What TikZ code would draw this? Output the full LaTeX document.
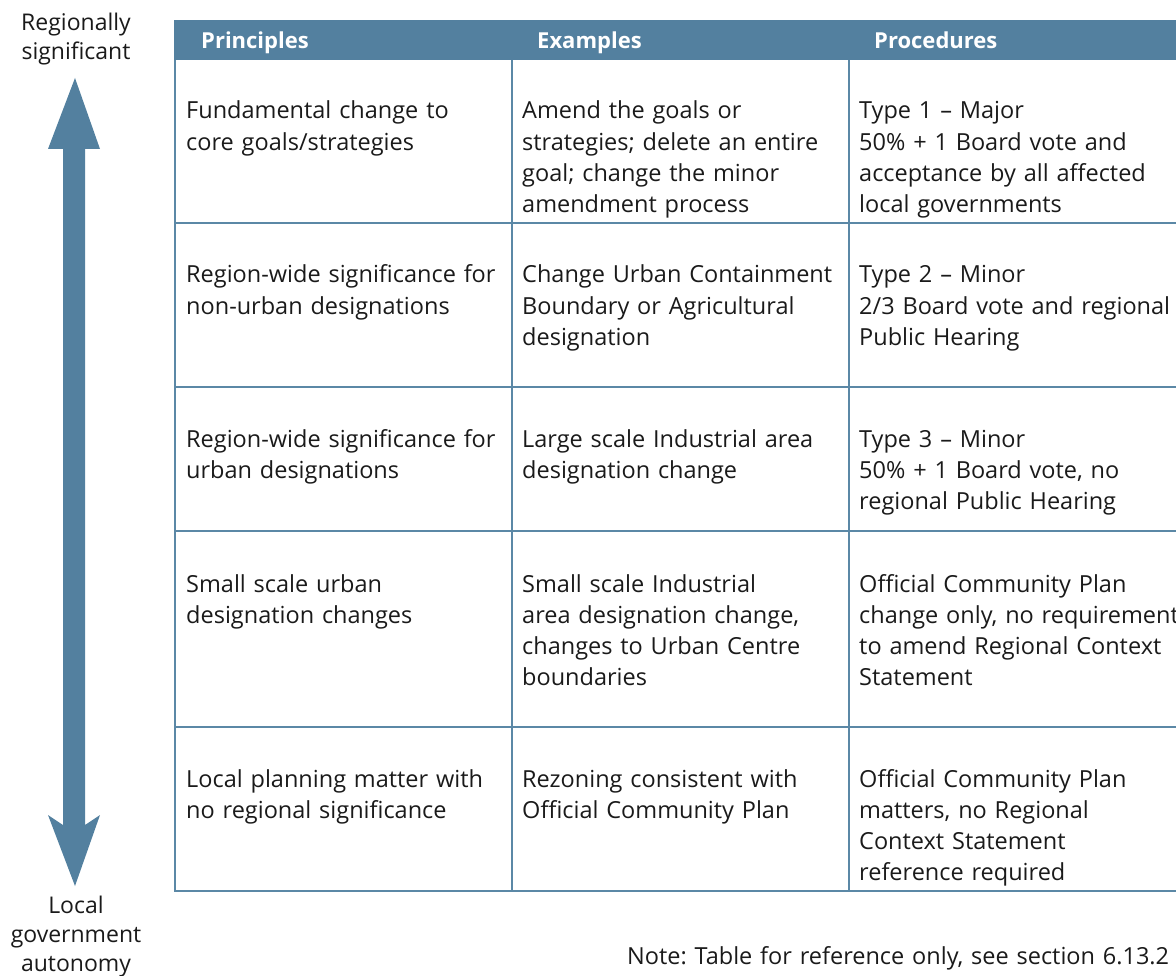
\documentclass[tikz,border=0pt]{standalone}
\usepackage{fontspec}
\setmainfont{Open Sans}
\frenchspacing
\definecolor{steel}{HTML}{53809F}
\definecolor{rule}{HTML}{5B88A6}
\definecolor{ink}{HTML}{1A1A1A}
\tikzset{
  cell/.style={anchor=base west, align=left, text width=330pt, inner sep=0pt, text=ink,
    font=\fontsize{23.5}{31.3}\selectfont},
  head/.style={anchor=base west, inner sep=0pt, text=white,
    font=\fontsize{22}{27}\selectfont\bfseries},
  side/.style={align=center, inner sep=0pt, text=ink,
    font=\fontsize{23}{29}\selectfont}
}
\begin{document}
\begin{tikzpicture}[x=1pt,y=-1pt]
      \useasboundingbox (0,0) rectangle (1176,976);

      % draw the header band
      \fill[steel] (174,20) rectangle (1190,60);
      \node[head] (hprin) at (201,49) {Principles};
      \node[head] (hexam) at (537,49) {Examples};
      \node[head] (hproc) at (874,49) {Procedures};

      % draw the grid
      \draw[rule, line width=2.8pt] (175,60) -- (175,891) -- (1190,891);
      \draw[rule, line width=2.8pt] (512,60) -- (512,891);
      \draw[rule, line width=2.8pt] (849,60) -- (849,891);
      \foreach \y in {223,387,531,727}
        \draw[rule, line width=2.8pt] (175,\y) -- (1190,\y);

      % first row
      \node[cell] (prin1) at (186,119) {Fundamental change to\\core goals/strategies};
      \node[cell] (exam1) at (522,119) {Amend the goals or\\strategies; delete an entire\\goal; change the minor\\amendment process};
      \node[cell] (proc1) at (859,119) {Type 1 -- Major\\50\% + 1 Board vote and\\acceptance by all affected\\local governments};

      % second row
      \node[cell] (prin2) at (186,283) {Region-wide significance for\\non-urban designations};
      \node[cell] (exam2) at (522,283) {Change Urban Containment\\Boundary or Agricultural\\designation};
      \node[cell] (proc2) at (859,283) {Type 2 -- Minor\\2/3 Board vote and regional\\Public Hearing};

      % third row
      \node[cell] (prin3) at (186,447) {Region-wide significance for\\urban designations};
      \node[cell] (exam3) at (522,447) {Large scale Industrial area\\designation change};
      \node[cell] (proc3) at (859,447) {Type 3 -- Minor\\50\% + 1 Board vote, no\\regional Public Hearing};

      % fourth row
      \node[cell] (prin4) at (186,592) {Small scale urban\\designation changes};
      \node[cell] (exam4) at (522,592) {Small scale Industrial\\area designation change,\\changes to Urban Centre\\boundaries};
      \node[cell] (proc4) at (859,592) {Official Community Plan\\change only, no requirement\\to amend Regional Context\\Statement};

      % fifth row
      \node[cell] (prin5) at (186,787) {Local planning matter with\\no regional significance};
      \node[cell] (exam5) at (522,787) {Rezoning consistent with\\Official Community Plan};
      \node[cell] (proc5) at (859,787) {Official Community Plan\\matters, no Regional\\Context Statement\\reference required};

      % draw the double arrow on the left
      \fill[steel] (75,78) -- (100,149) -- (85,149) -- (85,825) -- (100,815)
        -- (75,886) -- (48,815) -- (63,825) -- (63,149) -- (48,149) -- cycle;
      \node[side] (top) at (76,39) {Regionally\\significant};
      \node[side] (bottom) at (76,937) {Local\\government\\autonomy};

      \node[cell, text width=700pt] (note) at (627,964) {Note: Table for reference only, see section 6.13.2};
    \end{tikzpicture}
\end{document}
